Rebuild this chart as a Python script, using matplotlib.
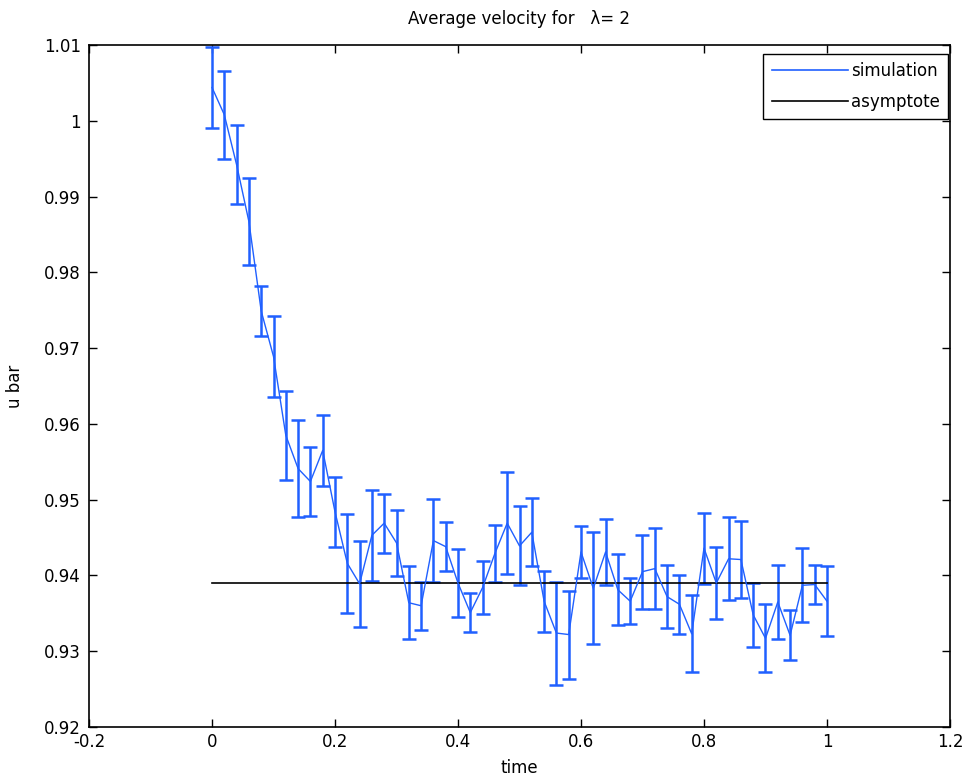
import numpy as np
import matplotlib
matplotlib.use("Agg")
import matplotlib.pyplot as plt
from matplotlib.lines import Line2D

plt.rcParams['font.family'] = ['DejaVu Sans']

time = np.round(np.arange(51) * 0.02, 2)
ubar = [1.0044, 1.0008, 0.9942, 0.9867, 0.9749, 0.9689, 0.9585, 0.9541, 0.9524, 0.9565,
        0.9484, 0.9416, 0.9389, 0.9453, 0.9469, 0.9443, 0.9364, 0.9360, 0.9446, 0.9438,
        0.9390, 0.9351, 0.9384, 0.9429, 0.9469, 0.9439, 0.9457, 0.9366, 0.9324, 0.9322,
        0.9431, 0.9383, 0.9431, 0.9381, 0.9366, 0.9405, 0.9409, 0.9372, 0.9362, 0.9323,
        0.9436, 0.9390, 0.9422, 0.9421, 0.9348, 0.9317, 0.9365, 0.9321, 0.9387, 0.9388,
        0.9366]
ubar_err = [0.0054, 0.0058, 0.0052, 0.0057, 0.0033, 0.0053, 0.0059, 0.0064, 0.0046, 0.0047,
            0.0046, 0.0065, 0.0057, 0.0060, 0.0039, 0.0044, 0.0048, 0.0032, 0.0055, 0.0032,
            0.0045, 0.0026, 0.0035, 0.0038, 0.0067, 0.0052, 0.0045, 0.0040, 0.0068, 0.0058,
            0.0034, 0.0074, 0.0044, 0.0047, 0.0030, 0.0049, 0.0053, 0.0042, 0.0039, 0.0051,
            0.0047, 0.0047, 0.0055, 0.0051, 0.0042, 0.0045, 0.0049, 0.0033, 0.0049, 0.0026,
            0.0046]
asym_t = [0.0, 1.0]
asym_v = [0.9390, 0.9390]

xticks = [-0.2, 0, 0.2, 0.4, 0.6, 0.8, 1, 1.2]
xticklabels = ['-0.2', '0', '0.2', '0.4', '0.6', '0.8', '1', '1.2']
yticks = [0.92, 0.93, 0.94, 0.95, 0.96, 0.97, 0.98, 0.99, 1.0, 1.01]
yticklabels = ['0.92', '0.93', '0.94', '0.95', '0.96', '0.97', '0.98', '0.99', '1', '1.01']

fig = plt.figure(figsize=(9.7, 7.82), dpi=100)
ax = fig.add_axes([89/970, 1-727/782, (950-89)/970, (727-45)/782])

blue = '#2060ff'
ax.errorbar(time, ubar, yerr=ubar_err, color=blue, ecolor=blue, lw=1.0, elinewidth=1.8,
            capsize=4.7, capthick=1.8)
ax.plot(asym_t, asym_v, color='black', lw=1.2)

ax.set_xlim(-0.2, 1.2)
ax.set_ylim(0.92, 1.01)
ax.set_xticks(xticks)
ax.set_xticklabels(xticklabels)
ax.set_yticks(yticks)
ax.set_yticklabels(yticklabels)
ax.tick_params(direction='in', length=6, width=1, top=True, right=True,
               labelsize=12, pad=4)
ax.tick_params(axis='y', pad=6)
for s in ax.spines.values():
    s.set_linewidth(1.2)

ax.set_title('Average velocity for   λ= 2', fontsize=12, pad=15)
ax.set_xlabel('time', fontsize=12, labelpad=6)
ax.set_ylabel('u bar', fontsize=12, labelpad=14)

h = [Line2D([], [], color=blue, lw=1.2), Line2D([], [], color='black', lw=1.2)]
leg = ax.legend(h, ['simulation', 'asymptote'], loc='upper right',
                bbox_to_anchor=((948-89)/861, (727-54)/682), borderaxespad=0,
                fontsize=12, handlelength=4.6, handletextpad=0.15, fancybox=False,
                edgecolor='black', framealpha=1, borderpad=0.5, labelspacing=0.75)
leg.get_frame().set_linewidth(1.0)

fig.savefig('out.png', dpi=100)
